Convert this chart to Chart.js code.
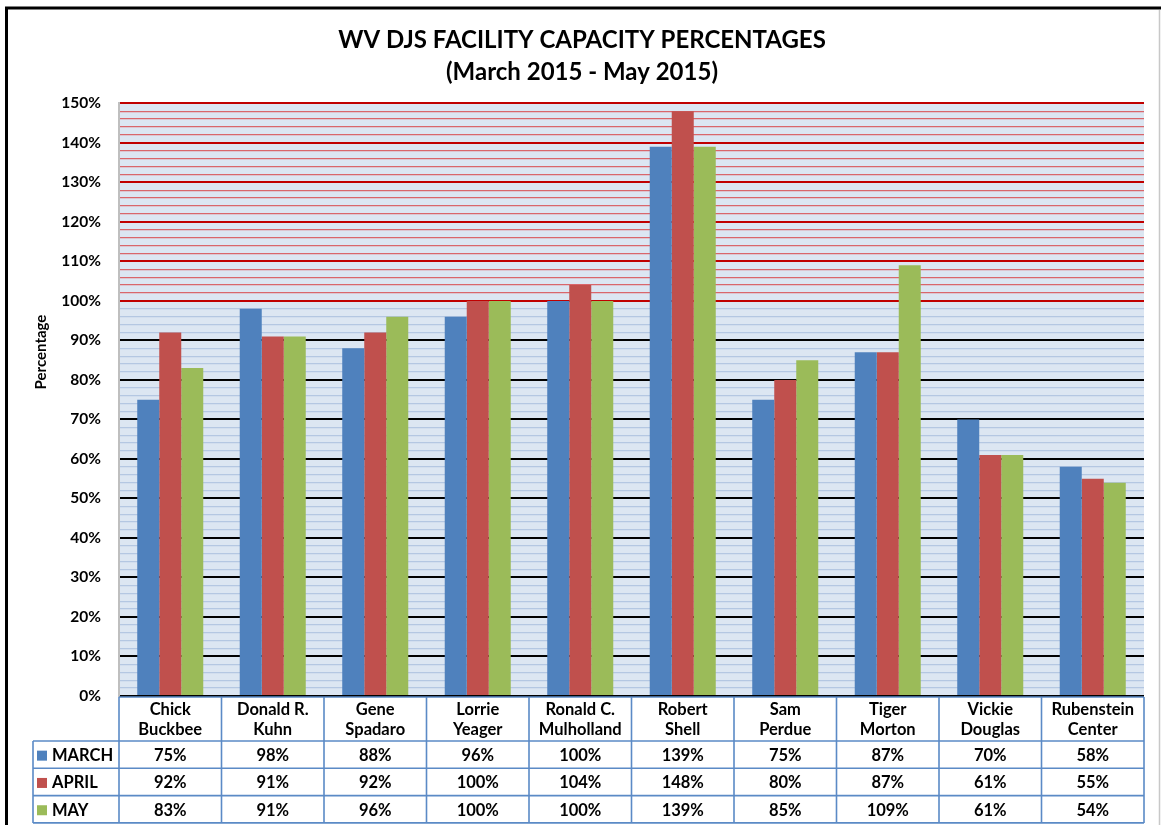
<!DOCTYPE html>
<html><head><meta charset="utf-8">
<script src="https://cdn.jsdelivr.net/npm/chart.js@4/dist/chart.umd.min.js"></script>
<style>html,body{margin:0;padding:0;background:#fff}</style>
</head><body>
<canvas id="c" width="1161" height="825"></canvas>
<script>
const categories = [["Chick","Buckbee"],["Donald R.","Kuhn"],["Gene","Spadaro"],["Lorrie","Yeager"],["Ronald C.","Mulholland"],["Robert","Shell"],["Sam","Perdue"],["Tiger","Morton"],["Vickie","Douglas"],["Rubenstein","Center"]];
const seriesNames = ["MARCH","APRIL","MAY"];
const march = [75,98,88,96,100,139,75,87,70,58];
const april = [92,91,92,100,104,148,80,87,61,55];
const may = [83,91,96,100,100,139,85,109,61,54];
const seriesColors = ["#4f81bd","#c0504d","#9bbb59"];
const titleLines = ["WV DJS FACILITY CAPACITY PERCENTAGES","(March 2015 - May 2015)"];
const yAxisTitle = "Percentage";
const yMin = 0, yMax = 150, yStep = 2, yLabelStep = 10;

const FONT = "Lato, 'Liberation Sans', sans-serif";
Chart.defaults.font.family = FONT;

const bgPlugin = {
  id: 'bg',
  beforeDraw(chart) {
    const ctx = chart.ctx, a = chart.chartArea;
    ctx.save();
    ctx.fillStyle = '#ffffff';
    ctx.fillRect(0, 0, chart.width, chart.height);
    ctx.fillStyle = '#dce6f2';
    ctx.fillRect(a.left, a.top, a.right - a.left, a.bottom - a.top);
    ctx.restore();
  },
  afterDraw(chart) {
    const ctx = chart.ctx, a = chart.chartArea;
    ctx.save();
    // frame
    ctx.strokeStyle = '#000';
    ctx.lineWidth = 3;
    ctx.beginPath();
    ctx.moveTo(6.5, chart.height);
    ctx.lineTo(6.5, 8);
    ctx.lineTo(chart.width, 8);
    ctx.stroke();
    ctx.strokeStyle = '#c8c8c8';
    ctx.lineWidth = 1.5;
    ctx.beginPath();
    ctx.moveTo(1159.5, 10);
    ctx.lineTo(1159.5, chart.height);
    ctx.stroke();
    // y axis title
    ctx.translate(41, 352);
    ctx.rotate(-Math.PI / 2);
    ctx.fillStyle = '#000';
    ctx.font = "bold 15px " + FONT;
    ctx.textAlign = 'center';
    ctx.textBaseline = 'middle';
    ctx.fillText(yAxisTitle, 0, 0);
    ctx.restore();
  }
};

const tablePlugin = {
  id: 'dtable',
  afterDraw(chart) {
    const ctx = chart.ctx, x = chart.scales.x, a = chart.chartArea;
    const n = categories.length;
    const L = a.left, R = a.right, w = (R - L) / n;
    const top = a.bottom + 1, hdrBot = 741, rowH = 27.3;
    const legL = 33;
    const bottom = hdrBot + rowH * 3;
    ctx.save();
    ctx.strokeStyle = '#5b8ac6';
    ctx.lineWidth = 1.6;
    ctx.beginPath();
    ctx.moveTo(L, top); ctx.lineTo(R, top);
    for (let r = 0; r <= 3; r++) {
      const yy = hdrBot + r * rowH;
      ctx.moveTo(legL, yy); ctx.lineTo(R, yy);
    }
    ctx.moveTo(legL, hdrBot); ctx.lineTo(legL, bottom);
    for (let i = 0; i <= n; i++) {
      const xx = L + i * w;
      ctx.moveTo(xx, top); ctx.lineTo(xx, bottom);
    }
    ctx.stroke();

    ctx.fillStyle = '#000';
    ctx.font = "bold 16.5px " + FONT;
    ctx.textAlign = 'center';
    ctx.textBaseline = 'middle';
    for (let i = 0; i < n; i++) {
      const cx = x.getPixelForValue(i);
      ctx.fillText(categories[i][0], cx, 710);
      ctx.fillText(categories[i][1], cx, 730);
    }
    const data = [march, april, may];
    for (let r = 0; r < 3; r++) {
      const cy = hdrBot + r * rowH + rowH / 2 + 1;
      for (let i = 0; i < n; i++) {
        ctx.fillText(data[r][i] + '%', x.getPixelForValue(i), cy);
      }
      ctx.fillStyle = seriesColors[r];
      ctx.fillRect(37, cy - 5, 10, 10);
      ctx.fillStyle = '#000';
      ctx.textAlign = 'left';
      ctx.fillText(seriesNames[r], 52, cy);
      ctx.textAlign = 'center';
    }
    ctx.restore();
  }
};

function gridColor(v) {
  const major = v % 10 === 0;
  if (v >= 100) return major ? '#c00000' : '#d9666b';
  return major ? '#000000' : '#b4c7e2';
}

new Chart(document.getElementById('c'), {
  type: 'bar',
  data: {
    labels: categories.map(c => c.join(' ')),
    datasets: [
      { label: seriesNames[0], data: march, backgroundColor: seriesColors[0] },
      { label: seriesNames[1], data: april, backgroundColor: seriesColors[1] },
      { label: seriesNames[2], data: may, backgroundColor: seriesColors[2] }
    ]
  },
  options: {
    responsive: false,
    animation: false,
    devicePixelRatio: 1,
    layout: { padding: { left: 20, right: 17, top: 24, bottom: 129 } },
    datasets: { bar: { categoryPercentage: 0.644, barPercentage: 1.0, borderWidth: 0 } },
    plugins: {
      legend: { display: false },
      tooltip: { enabled: false },
      title: {
        display: true,
        text: titleLines,
        color: '#000',
        font: { size: 24, weight: 'bold', lineHeight: 1.34 },
        padding: { top: 0, bottom: 15 }
      }
    },
    scales: {
      x: { display: false },
      y: {
        min: yMin, max: yMax,
        afterFit(scale) { scale.width = 99; },
        border: { display: true, color: '#bfbfbf', width: 2 },
        grid: {
          drawTicks: false,
          color: ctx => gridColor(ctx.tick.value),
          lineWidth: ctx => (ctx.tick.value % 10 === 0 ? 2 : 1.3)
        },
        ticks: {
          stepSize: yStep,
          autoSkip: false,
          padding: 18,
          color: '#000',
          font: { size: 15.5, weight: 'bold' },
          callback: v => (v % yLabelStep === 0 ? v + '%' : '')
        }
      }
    }
  },
  plugins: [bgPlugin, tablePlugin]
});
</script>
</body></html>
